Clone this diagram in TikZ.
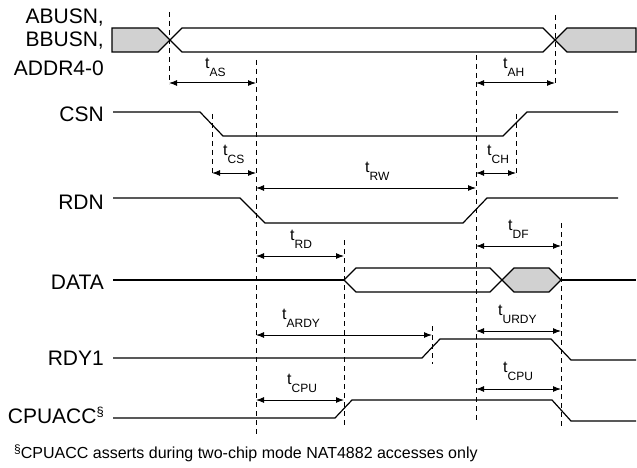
\documentclass[tikz,border=0pt]{standalone}
\usepackage{fontspec}
\setmainfont{Liberation Sans}
\usetikzlibrary{arrows.meta}
\definecolor{busgray}{gray}{0.82}
\tikzset{
  sig/.style={line width=1.2pt, line join=miter},
  guide/.style={line width=1pt, dash pattern=on 5pt off 4pt},
  meas/.style={line width=1pt, {Latex[length=8pt,width=6pt]}-{Latex[length=8pt,width=6pt]}},
  siglabel/.style={anchor=base east, inner sep=0pt, font=\fontsize{21}{21}\selectfont},
  tlabel/.style={anchor=base west, inner sep=0pt, font=\fontsize{16}{16}\selectfont},
  notelabel/.style={anchor=base west, inner sep=0pt, font=\fontsize{16}{16}\selectfont},
}
\newcommand{\tsub}[1]{t\raisebox{-8pt}{\fontsize{12}{12}\selectfont #1}}
\begin{document}
\begin{tikzpicture}[x=1pt,y=-1pt]
\useasboundingbox (0,0) rectangle (637,468);

% ---------- signal names ----------
\node[siglabel] (nA) at (104,24) {ABUSN,};
\node[siglabel] (nB) at (104,47) {BBUSN,};
\node[siglabel] (nC) at (104,76) {ADDR4-0};
\node[siglabel] (nCSN) at (104,122) {CSN};
\node[siglabel] (nRDN) at (104,209) {RDN};
\node[siglabel] (nDATA) at (104,289) {DATA};
\node[siglabel] (nRDY) at (104,365) {RDY1};
\node[siglabel] (nCPU) at (104,423) {CPUACC\raisebox{7pt}{\fontsize{13}{13}\selectfont\S}};

% ---------- address bus ----------
\draw[sig, fill=busgray] (112,28) -- (158,28) -- (170,40) -- (158,52) -- (112,52) -- cycle;
\draw[sig] (170,40) -- (182,28) -- (543,28) -- (555,40) -- (543,52) -- (182,52) -- cycle;
\draw[sig, fill=busgray] (555,40) -- (567,28) -- (636,28) -- (636,52) -- (567,52) -- cycle;

% ---------- CSN ----------
\draw[sig] (113,112) -- (200,112) -- (223,136) -- (503,136) -- (527,112) -- (618,112);
% ---------- RDN ----------
\draw[sig] (113,198) -- (240,198) -- (265,223) -- (463,223) -- (487,198) -- (618,198);
% ---------- DATA ----------
\draw[sig] (113,280) -- (344,280);
\draw[sig] (344,280) -- (356,268) -- (490,268) -- (502,280) -- (490,292) -- (356,292) -- cycle;
\draw[sig, fill=busgray] (502,280) -- (514,268) -- (549,268) -- (561,280) -- (549,292) -- (514,292) -- cycle;
\draw[sig] (561,280) -- (636,280);
% ---------- RDY1 ----------
\draw[sig] (113,358) -- (422,358) -- (440,339) -- (551,339) -- (571,360) -- (636,360);
% ---------- CPUACC ----------
\draw[sig] (113,418) -- (335,418) -- (352,400) -- (552,400) -- (571,421) -- (636,421);

% ---------- guide lines ----------
\coordinate (g1t) at (169,12);  \coordinate (g1b) at (169,84);
\coordinate (g2t) at (256,60);  \coordinate (g2b) at (256,437);
\coordinate (g3t) at (476,55);  \coordinate (g3b) at (476,423);
\coordinate (g4t) at (555,15);  \coordinate (g4b) at (555,85);
\coordinate (g5t) at (212,114); \coordinate (g5b) at (212,176);
\coordinate (g6t) at (516,114); \coordinate (g6b) at (516,177);
\coordinate (g7t) at (344,240); \coordinate (g7b) at (344,427);
\coordinate (g8t) at (561,223); \coordinate (g8b) at (561,427);
\coordinate (g9t) at (432,326); \coordinate (g9b) at (432,364);
\foreach \g in {1,...,9} \draw[guide] (g\g t) -- (g\g b);

% ---------- measurements ----------
\draw[meas] (169,83) -- (256,83);
\node[tlabel] (lAS) at (205,69) {\tsub{AS}};
\draw[meas] (476,83) -- (555,83);
\node[tlabel] (lAH) at (503,69) {\tsub{AH}};
\draw[meas] (212,173) -- (256,173);
\node[tlabel] (lCS) at (223,155) {\tsub{CS}};
\draw[meas] (476,173) -- (516,173);
\node[tlabel] (lCH) at (487,156) {\tsub{CH}};
\draw[meas] (256,188) -- (476,188);
\node[tlabel] (lRW) at (365,172) {\tsub{RW}};
\draw[meas] (256,256) -- (344,256);
\node[tlabel] (lRD) at (290,240) {\tsub{RD}};
\draw[meas] (476,246) -- (561,246);
\node[tlabel] (lDF) at (508,230) {\tsub{DF}};
\draw[meas] (256,335) -- (432,335);
\node[tlabel] (lARDY) at (282,319) {\tsub{ARDY}};
\draw[meas] (476,331) -- (561,331);
\node[tlabel] (lURDY) at (498,315) {\tsub{URDY}};
\draw[meas] (256,400) -- (344,400);
\node[tlabel] (lCPU1) at (287,384) {\tsub{CPU}};
\draw[meas] (476,389) -- (561,389);
\node[tlabel] (lCPU2) at (503,372) {\tsub{CPU}};

% ---------- footnote ----------
\node[notelabel] (note) at (14,458) {\raisebox{5pt}{\fontsize{12}{12}\selectfont\S}CPUACC asserts during two-chip mode NAT4882 accesses only};
\end{tikzpicture}
\end{document}
